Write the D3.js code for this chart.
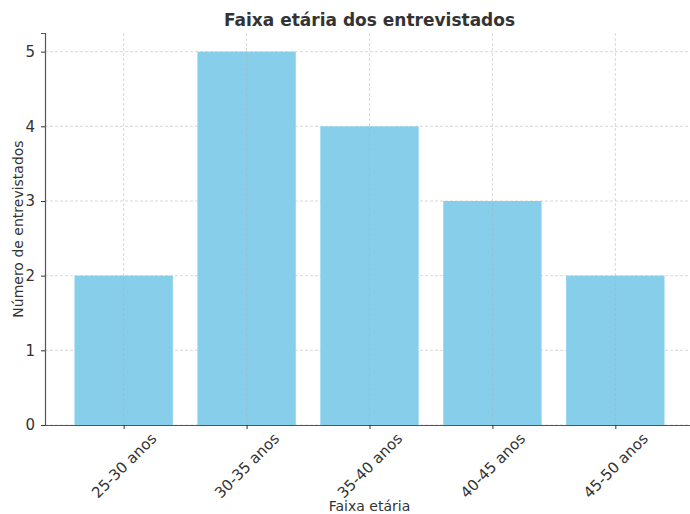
<!DOCTYPE html>
<html>
<head>
<meta charset="utf-8">
<script src="https://cdn.jsdelivr.net/npm/d3@7"></script>
<style>
  body { margin: 0; background: #fff; }
  svg text { font-family: "DejaVu Sans", sans-serif; fill: #333; }
</style>
</head>
<body>
<div id="chart"></div>
<script>
// Dados do gráfico
const faixas = ['25-30 anos', '30-35 anos', '35-40 anos', '40-45 anos', '45-50 anos'];
const entrevistados = [2, 5, 4, 3, 2];
const yTicks = [0, 1, 2, 3, 4, 5];

const W = 690, H = 514;
const margin = {top: 33, right: -4, bottom: 89, left: 45};
const width = W - margin.left - margin.right,
      height = H - margin.top - margin.bottom;

const svg = d3.select('#chart').append('svg')
    .attr('width', W).attr('height', H);

const g = svg.append('g')
    .attr('transform', 'translate(' + margin.left + ',' + margin.top + ')');

// Eixo X (linear como no matplotlib: barras de 0.8, margem 5%)
const x = d3.scaleLinear()
    .domain([-0.64, faixas.length - 1 + 0.64])
    .range([0, width]);
const barW = x(0.8) - x(0);

// Eixo Y
const y = d3.scaleLinear()
    .domain([0, 5.25])
    .range([height, 0]);

// Grade
g.append('g').selectAll('line.gy')
    .data(yTicks).enter().append('line')
    .attr('x1', 0).attr('x2', width)
    .attr('y1', d => y(d)).attr('y2', d => y(d))
    .attr('stroke', '#b0b0b0').attr('stroke-width', 0.8)
    .attr('stroke-dasharray', '3,2').attr('opacity', 0.6);

// Barras
g.selectAll('rect.bar')
    .data(entrevistados).enter().append('rect')
    .attr('x', (d, i) => x(i) - barW / 2)
    .attr('width', barW)
    .attr('y', d => y(d))
    .attr('height', d => height - y(d))
    .attr('fill', '#87CEEB');

// Grade vertical por cima das barras
g.append('g').selectAll('line.gx')
    .data(faixas).enter().append('line')
    .attr('x1', (d, i) => x(i)).attr('x2', (d, i) => x(i))
    .attr('y1', 0).attr('y2', height)
    .attr('stroke', '#b0b0b0').attr('stroke-width', 0.8)
    .attr('stroke-dasharray', '3,2').attr('opacity', 0.6);

// Eixo esquerdo
const yAxis = g.append('g')
    .call(d3.axisLeft(y).tickValues(yTicks).tickFormat(d3.format('d')).tickSize(4).tickPadding(6));
yAxis.select('.domain').attr('stroke', '#555').attr('stroke-width', 1.2);
yAxis.selectAll('.tick line').attr('stroke', '#333');
yAxis.selectAll('.tick text').style('font-size', '15px').attr('fill', '#333');

// Eixo inferior
const xAxis = g.append('g')
    .attr('transform', 'translate(0,' + height + ')')
    .call(d3.axisBottom(x).tickValues(d3.range(faixas.length)).tickFormat(i => faixas[i]).tickSize(4).tickSizeOuter(0));
xAxis.select('.domain').attr('stroke', '#555').attr('stroke-width', 1.2);
xAxis.selectAll('.tick line').attr('stroke', '#333');
xAxis.selectAll('.tick text')
    .style('font-size', '15px')
    .attr('fill', '#333')
    .attr('dy', null)
    .attr('text-anchor', 'middle')
    .attr('dominant-baseline', 'central')
    .each(function() {
        const L = this.getComputedTextLength();
        const ext = (L + 14) / Math.SQRT2;
        d3.select(this).attr('y', null)
            .attr('transform', 'translate(0,' + (6 + ext / 2) + ') rotate(-45)');
    });

// Título
svg.append('text')
    .attr('x', margin.left + x(2)).attr('y', 20)
    .attr('text-anchor', 'middle').attr('dominant-baseline', 'central')
    .style('font-size', '17px').style('font-weight', 'bold')
    .text('Faixa etária dos entrevistados');

// Rótulos dos eixos
svg.append('text')
    .attr('x', margin.left + x(2)).attr('y', 506)
    .attr('text-anchor', 'middle').attr('dominant-baseline', 'central')
    .style('font-size', '14px')
    .text('Faixa etária');

svg.append('text')
    .attr('transform', 'translate(18,' + (margin.top + y(2.625)) + ') rotate(-90)')
    .attr('text-anchor', 'middle').attr('dominant-baseline', 'central')
    .style('font-size', '14px')
    .text('Número de entrevistados');
</script>
</body>
</html>
